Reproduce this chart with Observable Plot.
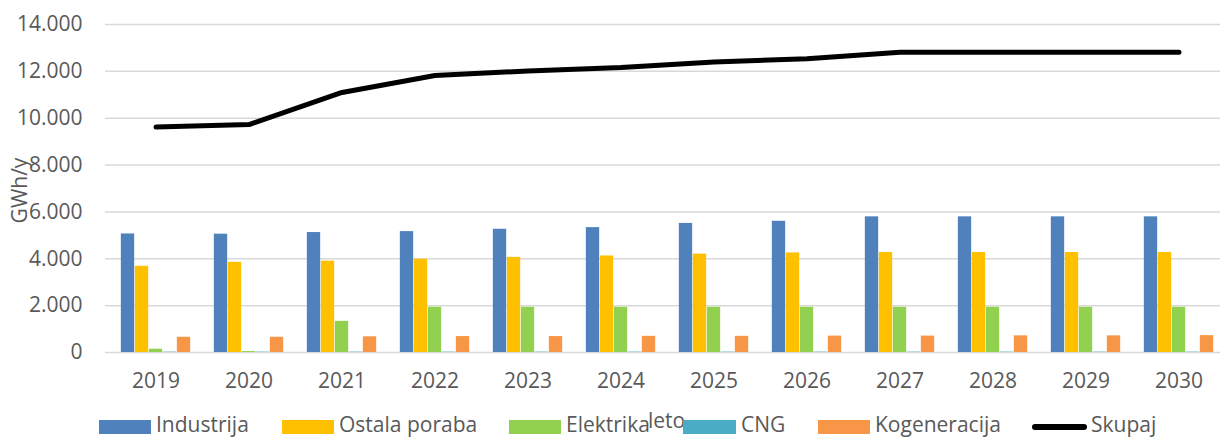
<!DOCTYPE html>
<html>
<head>
<meta charset="utf-8">
<script src="https://cdn.jsdelivr.net/npm/d3@7"></script>
<script src="https://cdn.jsdelivr.net/npm/@observablehq/plot@0.6"></script>
<style>
  html, body { margin: 0; padding: 0; background: #fff; }
  #wrap { position: relative; width: 1220px; height: 439px; overflow: hidden; font-family: "Open Sans", sans-serif; }
  .lg { position: absolute; top: 410px; height: 28px; line-height: 28px; display: flex; align-items: center; font-size: 21px; color: #595959; white-space: nowrap; }
  .lg span { line-height: 28px; }
  .sw { height: 14px; margin-right: 5px; margin-top: 5px; }
  .ln { height: 6px; border-radius: 3px; margin-right: 4px; margin-top: 5px; }
</style>
</head>
<body>
<div id="wrap"></div>
<script>
const years = ["2019","2020","2021","2022","2023","2024","2025","2026","2027","2028","2029","2030"];
const seriesNames = ["Industrija", "Ostala poraba", "Elektrika", "CNG", "Kogeneracija"];
const seriesColors = ["#4F81BD", "#FFC000", "#92D050", "#4BACC6", "#F79646"];
const industrija   = [5060, 5050, 5120, 5160, 5260, 5330, 5510, 5600, 5790, 5790, 5790, 5790];
const ostalaPoraba = [3680, 3850, 3900, 3980, 4060, 4120, 4200, 4250, 4270, 4270, 4270, 4270];
const elektrika    = [140, 40, 1330, 1930, 1930, 1930, 1930, 1930, 1930, 1930, 1930, 1930];
const cng          = [15, 15, 15, 15, 15, 15, 15, 15, 15, 15, 15, 15];
const kogeneracija = [650, 650, 670, 680, 680, 690, 690, 700, 700, 710, 710, 720];
const skupajName = "Skupaj";
const skupaj       = [9620, 9730, 11100, 11820, 12020, 12160, 12400, 12540, 12820, 12820, 12820, 12820];
const yTicks = [0, 2000, 4000, 6000, 8000, 10000, 12000, 14000];
const yLabel = "GWh/y";
const xLabel = "leto";

const seriesValues = [industrija, ostalaPoraba, elektrika, cng, kogeneracija];

const W = 1220, H = 439, mL = 105, mR = -9, mT = 24, mB = 87;
const step = (W - mL - mR) / years.length;
const barW = 14;
const pad = (step - barW * seriesNames.length) / 2;

const fmt = d3.formatLocale({decimal: ",", thousands: ".", grouping: [3], currency: ["", ""]}).format(",");

const barMarks = seriesNames.map((name, i) => {
  const rows = years.map((y, j) => ({year: y, value: seriesValues[i][j]}));
  const left = pad + i * barW;
  return Plot.barY(rows, {
    x: "year", y: "value", fill: seriesColors[i],
    insetLeft: left, insetRight: step - left - barW
  });
});

const totalRows = years.map((y, j) => ({year: y, value: skupaj[j]}));

const chart = Plot.plot({
  width: W, height: H,
  marginLeft: mL, marginRight: mR, marginTop: mT, marginBottom: mB,
  style: {fontFamily: "Open Sans, sans-serif", fontSize: "21px", color: "#595959", background: "#fff"},
  x: {type: "band", domain: years, padding: 0, label: null},
  y: {domain: [0, 14000], label: null},
  marks: [
    Plot.gridY(yTicks, {stroke: "#d9d9d9", strokeOpacity: 1, strokeWidth: 1.5}),
    ...barMarks,
    Plot.line(totalRows, {x: "year", y: "value", stroke: "#000", strokeWidth: 5, strokeLinecap: "round", strokeLinejoin: "round"}),
    Plot.axisY(yTicks, {tickSize: 0, tickPadding: 23, tickFormat: fmt, label: null, fill: "#595959"}),
    Plot.axisX({tickSize: 0, tickPadding: 21, label: null, fill: "#595959"}),
    Plot.text([yLabel], {frameAnchor: "left", textAnchor: "middle", lineAnchor: "middle", dx: -85, dy: 2, rotate: -90, fill: "#595959", fontSize: 21}),
    Plot.text([xLabel], {frameAnchor: "bottom", textAnchor: "middle", lineAnchor: "middle", dx: -1, dy: 69, fill: "#595959", fontSize: 21})
  ]
});

const wrap = document.getElementById("wrap");
wrap.appendChild(chart);

// legend
const legendItems = [
  ...seriesNames.map((n, i) => ({name: n, color: seriesColors[i], kind: "box"})),
  {name: skupajName, color: "#000", kind: "line"}
];
const legendLeft = [99, 282, 509, 683, 818, 1032];
const swatchW = [52, 52, 52, 53, 52, 55];
legendItems.forEach((it, i) => {
  const d = document.createElement("div");
  d.className = "lg";
  d.style.left = legendLeft[i] + "px";
  const s = document.createElement("div");
  s.className = it.kind === "box" ? "sw" : "ln";
  s.style.width = swatchW[i] + "px";
  s.style.background = it.color;
  const t = document.createElement("span");
  t.textContent = it.name;
  d.appendChild(s);
  d.appendChild(t);
  wrap.appendChild(d);
});
</script>
</body>
</html>
